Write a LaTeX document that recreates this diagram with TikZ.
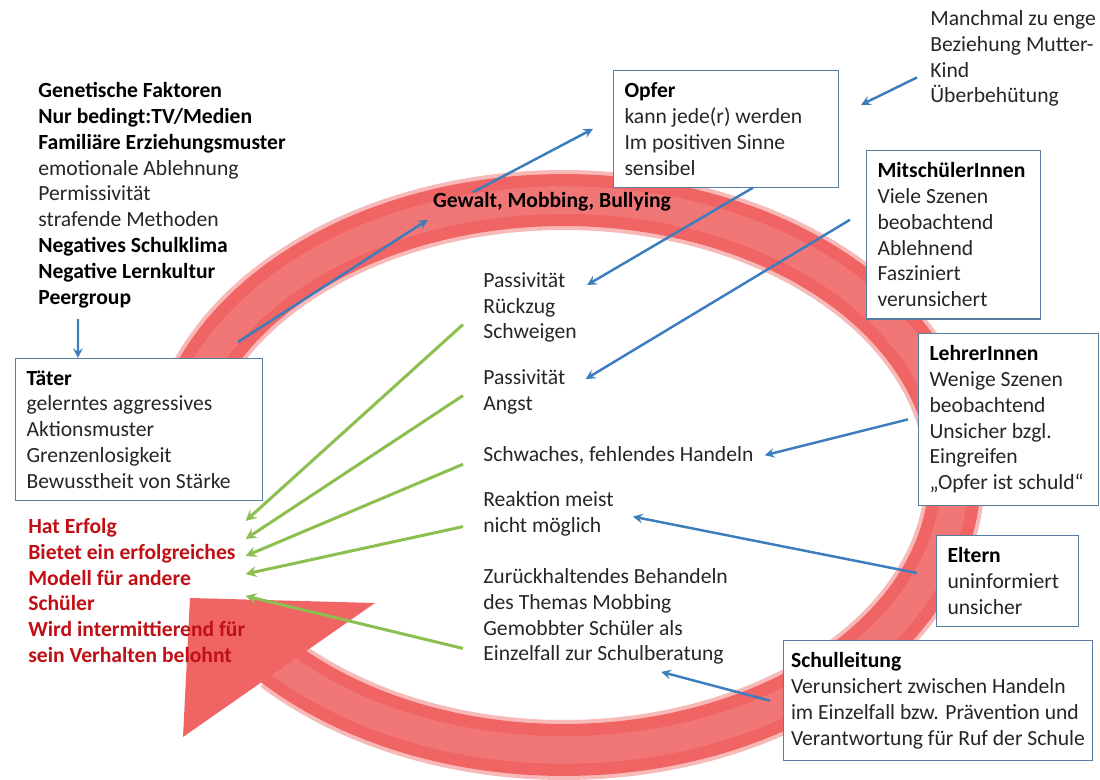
\documentclass[tikz,border=0pt]{standalone}
\usepackage{fontspec}
\setmainfont{Carlito}
\definecolor{ringred}{RGB}{240,100,100}
\definecolor{boxline}{RGB}{88,125,160}
\definecolor{arrowblue}{RGB}{60,125,190}
\definecolor{arrowgreen}{RGB}{140,190,80}
\definecolor{darkred}{RGB}{192,16,22}
\definecolor{textgray}{RGB}{38,38,38}
\newcommand\boxfont{\fontsize{12.3}{14.7}\selectfont}
\newcommand\hd[1]{\textcolor{black}{\textbf{#1}}}
\tikzset{
  infobox/.style={draw=boxline,fill=white,line width=0.6pt,anchor=north west,align=flush left,
    inner xsep=0.22cm,inner ysep=0.24cm,font=\boxfont,text=textgray},
  plain/.style={anchor=north west,align=left,inner sep=0pt,font=\boxfont,text=textgray},
  bluearrow/.style={->,draw=arrowblue,line width=1.4pt},
  greenarrow/.style={->,draw=arrowgreen,line width=1.7pt}
}
\begin{document}
\begin{tikzpicture}[x=0.02cm,y=-0.02cm,>=stealth]
        \useasboundingbox (0,0) rectangle (1100,780);
        \draw[ringred!45,line width=1.2cm] plot[domain=190:497,samples=200] ({564+391*cos(\x)},{475+275*sin(\x)});
        \draw[ringred,line width=1.04cm] plot[domain=190:498,samples=200] ({564+391*cos(\x)},{475+275*sin(\x)});
        \draw[white,opacity=.12,line width=.55cm] plot[domain=190:497,samples=200] ({564+391*cos(\x)},{475+275*sin(\x)});
        \fill[ringred] (190,598)--(375,603)--(183,737)--cycle;
        \node[plain] (ursachen) at (38,82) {\hd{Genetische Faktoren}\\ \hd{Nur bedingt:TV/Medien}\\ \hd{Familiäre Erziehungsmuster}\\ emotionale Ablehnung\\ Permissivität\\ strafende Methoden\\ \hd{Negatives Schulklima}\\ \hd{Negative Lernkultur}\\ \hd{Peergroup}};
        \node[infobox,text width=4.5cm] (taeter) at (15,358) {\hd{Täter}\\ gelerntes aggressives\\ Aktionsmuster\\ Grenzenlosigkeit\\ Bewusstheit von Stärke};
        \node[plain,text=darkred,font=\boxfont\bfseries] (erfolg) at (28,518) {Hat Erfolg\\ Bietet ein erfolgreiches\\ Modell für andere\\ Schüler\\ Wird intermittierend für\\ sein Verhalten belohnt};
        \node[font=\boxfont\bfseries,inner sep=0pt] (gewalt) at (552,202) {Gewalt, Mobbing, Bullying};
        \node[infobox,text width=4.06cm] (opfer) at (613,70) {\hd{Opfer}\\ kann jede(r) werden\\ Im positiven Sinne\\ sensibel};
        \node[plain] (mutter) at (930,10) {Manchmal zu enge\\ Beziehung Mutter-\\ Kind\\ Überbehütung};
        \node[infobox,text width=3.04cm] (mitsch) at (866,150) {\hd{MitschülerInnen}\\ Viele Szenen\\ beobachtend\\ Ablehnend\\ Fasziniert\\ verunsichert};
        \node[infobox,text width=3.16cm] (lehrer) at (918,333) {\hd{LehrerInnen}\\ Wenige Szenen\\ beobachtend\\ Unsicher bzgl.\\ Eingreifen\\ „Opfer ist schuld“};
        \node[infobox,text width=2.4cm] (eltern) at (936,535) {\hd{Eltern}\\ uninformiert\\ unsicher};
        \node[infobox,inner xsep=0.15cm] (schul) at (783,640) {\hd{Schulleitung}\\ Verunsichert zwischen Handeln\\ im Einzelfall bzw. Prävention und\\ Verantwortung für Ruf der Schule};
        \node[plain] (rueckzug) at (483,272) {Passivität\\ Rückzug\\ Schweigen};
        \node[plain] (angst) at (483,369) {Passivität\\ Angst};
        \node[plain] (schwach) at (483,446) {Schwaches, fehlendes Handeln};
        \node[plain] (reaktion) at (483,491) {Reaktion meist\\ nicht möglich};
        \node[plain] (zurueck) at (483,568) {Zurückhaltendes Behandeln\\ des Themas Mobbing\\ Gemobbter Schüler als\\ Einzelfall zur Schulberatung};
        \coordinate (ringfoot) at (238,342);
        \draw[bluearrow] ([shift={(0.8cm,-0.22cm)}]ursachen.south west)--([xshift=1.26cm]taeter.north west);
        \draw[bluearrow] (ringfoot)--([shift={(-0.1cm,-0.16cm)}]gewalt.south west);
        \draw[bluearrow] ([xshift=0.8cm]gewalt.north west)--([xshift=-0.4cm]opfer.west);
        \draw[bluearrow] ([shift={(-0.26cm,-0.38cm)}]mutter.west)--([shift={(0.44cm,0.48cm)}]opfer.east);
        \draw[bluearrow] ([xshift=0.54cm]opfer.south)--([shift={(0.2cm,-0.26cm)}]rueckzug.north east);
        \draw[bluearrow] ([shift={(-0.32cm,0.3cm)}]mitsch.west)--([shift={(0.4cm,-0.2cm)}]angst.north east);
        \draw[bluearrow] ([xshift=-0.2cm]lehrer.west)--([xshift=0.22cm]schwach.east);
        \draw[bluearrow] ([shift={(-0.38cm,0.16cm)}]eltern.west)--([shift={(0.38cm,-0.06cm)}]reaktion.east);
        \draw[bluearrow] ([xshift=-0.26cm]schul.west)--([shift={(-1.34cm,-0.14cm)}]zurueck.south east);
        \foreach \src/\dy/\ey in {rueckzug/-0.34/-0.06,angst/-0.08/-0.42,schwach/-0.18/-0.76,reaktion/-0.26/-1.12,zurueck/-0.64/-1.56}
            \draw[greenarrow] ([shift={(-0.4cm,\dy cm)}]\src.west)--([yshift=\ey cm]erfolg.north east);
    \end{tikzpicture}
\end{document}
